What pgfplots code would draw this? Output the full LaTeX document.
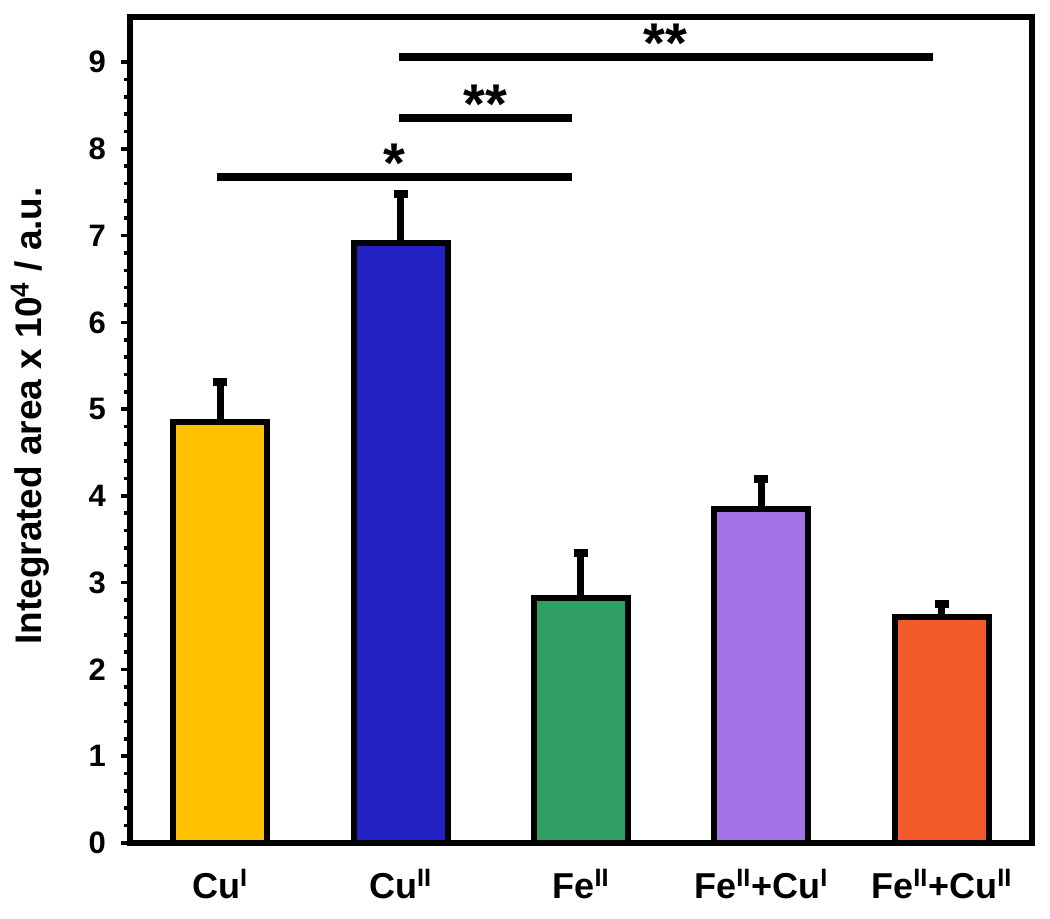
\documentclass[border=0pt]{standalone}
\usepackage{pgfplots}
\pgfplotsset{compat=1.18}
\usepackage{fontspec}
\setmainfont{Liberation Sans}
\definecolor{cA}{HTML}{FFC000}
\definecolor{cB}{HTML}{2222C4}
\definecolor{cC}{HTML}{2E9E62}
\definecolor{cD}{HTML}{A272E6}
\definecolor{cE}{HTML}{F25A2A}
\pgfplotsset{mybar/.style={
  ybar, bar width=0.52, draw=black, line width=3pt, fill=#1,
  error bars/y dir=plus, error bars/y explicit,
  error bars/error mark=|,
  error bars/error bar style={line width=3.5pt, black},
  error bars/error mark options={line width=4pt, mark size=3.5pt, black}}}
\begin{document}
\begin{tikzpicture}
\begin{axis}[
  scale only axis, width=451pt, height=413pt,
  xmin=-0.5, xmax=4.5, ymin=0, ymax=9.52,
  axis line style={line width=3pt, black},
  xtick={0,1,2,3,4},
  xticklabels={Cu\textsuperscript{I}, Cu\textsuperscript{II}, Fe\textsuperscript{II}, Fe\textsuperscript{II}+Cu\textsuperscript{I}, Fe\textsuperscript{II}+Cu\textsuperscript{II}},
  x tick style={draw=none},
  ytick={0,1,...,9}, minor y tick num=4,
  ytick pos=left, tick align=outside,
  major tick length=4.5pt, minor tick length=3pt,
  y tick style={line width=1.8pt, black},
  /pgf/number format/assume math mode=true,
  yticklabel style={font=\bfseries\fontsize{15.5}{15.5}\selectfont, xshift=-4pt},
  xticklabel style={font=\bfseries\fontsize{18}{18}\selectfont, yshift=-5pt},
  ylabel={\bfseries Integrated area x 10\textsuperscript{4} / a.u.},
  ylabel style={font=\bfseries\fontsize{18.5}{18.5}\selectfont, at={(axis description cs:0,0.5)}, anchor=center, yshift=50pt, xshift=7pt},
  clip=false,
]
\addplot[mybar=cA] coordinates {(0,4.85) +- (0,0.46)};
\addplot[mybar=cB] coordinates {(1,6.92) +- (0,0.56)};
\addplot[mybar=cC] coordinates {(2,2.82) +- (0,0.52)};
\addplot[mybar=cD] coordinates {(3,3.85) +- (0,0.35)};
\addplot[mybar=cE] coordinates {(4,2.61) +- (0,0.14)};
\end{axis}
\begin{axis}[
  scale only axis, width=451pt, height=413pt,
  xmin=-0.5, xmax=4.5, ymin=0, ymax=9.52,
  hide axis, clip=false,
]
\addplot[line width=4pt, black] coordinates {(-0.02,7.67) (1.95,7.67)};
\addplot[line width=4pt, black] coordinates {(0.99,8.36) (1.95,8.36)};
\addplot[line width=4pt, black] coordinates {(0.99,9.06) (3.95,9.06)};
\node[font=\bfseries\fontsize{28}{28}\selectfont, inner sep=0pt] at (axis cs:0.965,7.83) {*};
\node[font=\bfseries\fontsize{28}{28}\selectfont, inner sep=0pt] at (axis cs:1.47,8.52) {**};
\node[font=\bfseries\fontsize{28}{28}\selectfont, inner sep=0pt] at (axis cs:2.47,9.22) {**};
\end{axis}
\pgfresetboundingbox
\path[use as bounding box] ([xshift=-65pt,yshift=-38pt]current axis.south west) rectangle ([xshift=9pt,yshift=8.5pt]current axis.north east);
\end{tikzpicture}
\end{document}
